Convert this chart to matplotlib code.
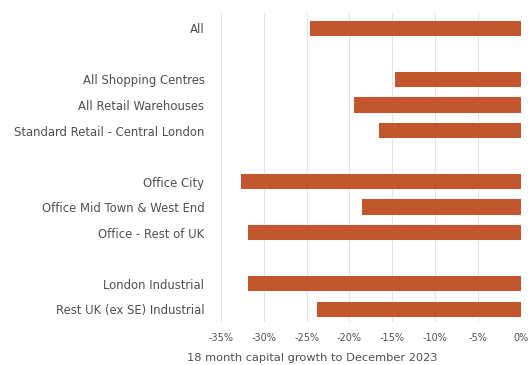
import matplotlib
matplotlib.use("Agg")
import matplotlib.pyplot as plt
from matplotlib.ticker import FuncFormatter

# categories top to bottom, None = blank spacer row
categories = ["All", None,
              "All Shopping Centres", "All Retail Warehouses", "Standard Retail - Central London", None,
              "Office City", "Office Mid Town & West End", "Office - Rest of UK", None,
              "London Industrial", "Rest UK (ex SE) Industrial"]
growth = [-24.6, None,
          -14.7, -19.5, -16.5, None,
          -32.7, -18.5, -31.8, None,
          -31.8, -23.8]
x_ticks = [-35, -30, -25, -20, -15, -10, -5, 0]

plt.rcParams['font.family'] = ['DejaVu Sans']

fig = plt.figure(figsize=(5.29, 3.65), dpi=100)
ax = fig.add_axes([0.418, 0.118, 0.566, 0.846])

rows = [i for i, c in enumerate(categories) if c is not None]
vals = [growth[i] for i in rows]
labels = [categories[i] for i in rows]

ax.barh(rows, vals, height=0.6, color="#c2562d", zorder=3)

ax.set_xlim(-35, 0)
ax.set_ylim(11.5, -0.6)
ax.set_xticks(x_ticks)
ax.xaxis.set_major_formatter(FuncFormatter(lambda v, p: f"{int(v)}%"))
ax.set_yticks(rows)
ax.set_yticklabels(labels)
ax.tick_params(length=0, colors="#505050")
ax.tick_params(axis="y", pad=12, labelsize=8.4)
ax.tick_params(axis="x", pad=8, labelsize=7.0)
ax.grid(axis="x", color="#e4e4e4", linewidth=0.8, zorder=0)
for s in ax.spines.values():
    s.set_visible(False)

ax.set_xlabel("18 month capital growth to December 2023", fontsize=8.2, color="#505050")
ax.xaxis.set_label_coords(0.305, -0.1)

fig.savefig("out.png", dpi=100)
